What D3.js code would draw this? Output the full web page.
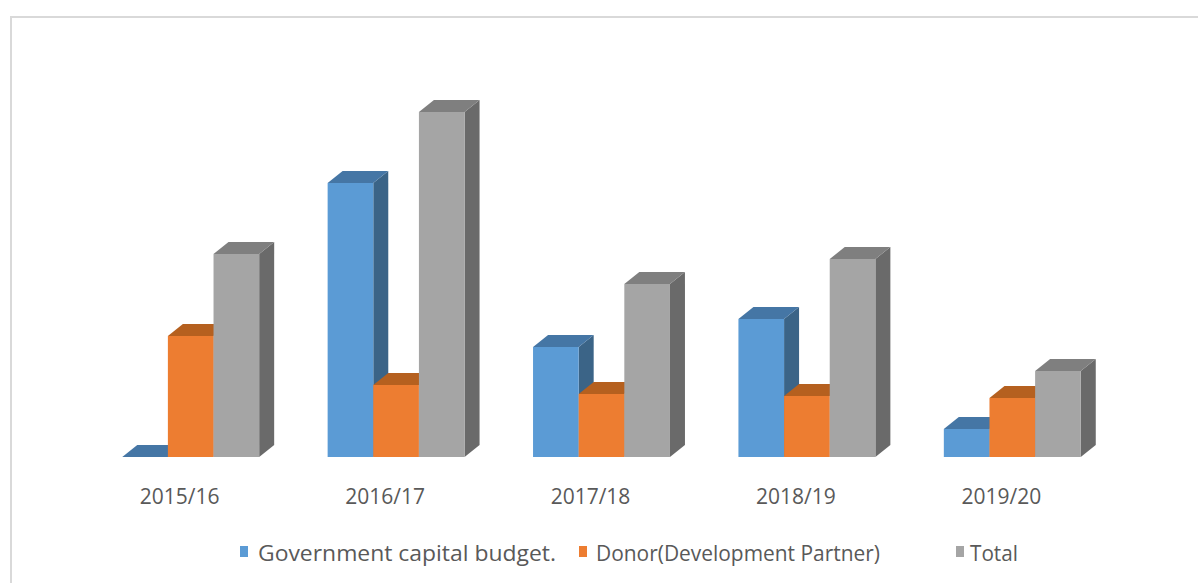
<!DOCTYPE html>
<html>
<head>
<meta charset="utf-8">
<script src="https://cdn.jsdelivr.net/npm/d3@7/dist/d3.min.js"></script>
<style>
  html, body { margin: 0; padding: 0; background: #ffffff; }
  svg { display: block; }
  text { font-family: "Open Sans", "Noto Sans", sans-serif; fill: #595959; }
</style>
</head>
<body>
<svg id="chart" width="1198" height="583"></svg>
<script>
// ---- Data ----
const categories = ["2015/16", "2016/17", "2017/18", "2018/19", "2019/20"];
const seriesNames = ["Government capital budget.", "Donor(Development Partner)", "Total"];
const governmentCapital = [0, 274, 110, 138, 28];
const donor = [121, 72, 63, 61, 59];
const total = [203, 345, 173, 198, 86];

const seriesValues = [governmentCapital, donor, total];
const frontColors = ["#5b9bd5", "#ed7d31", "#a5a5a5"];
const topColors = ["#4576a5", "#b5601f", "#7f7f7f"];
const sideColors = ["#3b6487", "#b25f24", "#6a6a6a"];

const W = 1198, H = 583;
const svg = d3.select("#chart");

// outer frame (only top and left edges visible in the reference)
svg.append("rect").attr("x", 11).attr("y", 17).attr("width", W + 20).attr("height", H + 20)
  .attr("fill", "#ffffff").attr("stroke", "#d9d9d9").attr("stroke-width", 2);

const baseY = 457;
const depthX = 15, depthY = 12;

const x0 = d3.scaleBand().domain(categories).range([88, 1115]).paddingInner(0).paddingOuter(0);
const x1 = d3.scaleBand().domain(d3.range(3)).range([x0.bandwidth() / 6, x0.bandwidth() * 5 / 6]);
const y = d3.scaleLinear().domain([0, 350]).range([baseY, baseY - 350]);

const g = svg.append("g");
categories.forEach((cat, ci) => {
  seriesValues.forEach((vals, si) => {
    const v = vals[ci];
    const xl = x0(cat) + x1(si);
    const xr = xl + x1.bandwidth();
    const yt = y(v);
    const bar = g.append("g");
    // side face
    bar.append("path")
      .attr("d", `M${xr},${yt}L${xr + depthX},${yt - depthY}L${xr + depthX},${baseY - depthY}L${xr},${baseY}Z`)
      .attr("fill", sideColors[si]);
    // top face
    bar.append("path")
      .attr("d", `M${xl},${yt}L${xl + depthX},${yt - depthY}L${xr + depthX},${yt - depthY}L${xr},${yt}Z`)
      .attr("fill", topColors[si]);
    // front face
    bar.append("rect")
      .attr("x", xl).attr("y", yt).attr("width", xr - xl).attr("height", baseY - yt)
      .attr("fill", frontColors[si]);
  });
});

// category labels
svg.append("g").selectAll("text").data(categories).join("text")
  .attr("x", d => x0(d) + x0.bandwidth() / 2 - 11)
  .attr("y", 504)
  .attr("text-anchor", "middle")
  .attr("font-size", 21)
  .text(d => d);

// legend
const legendX = [240, 579, 956];
const legendTextX = [258, 596, 970];
const legendTextLen = [298, 284, 48];
const lg = svg.append("g");
seriesNames.forEach((name, i) => {
  lg.append("rect").attr("x", legendX[i]).attr("y", 546).attr("width", 8).attr("height", 11)
    .attr("fill", frontColors[i]);
  lg.append("text").attr("x", legendTextX[i]).attr("y", 561)
    .attr("font-size", 21)
    .attr("textLength", legendTextLen[i]).attr("lengthAdjust", "spacingAndGlyphs")
    .text(name);
});
</script>
</body>
</html>
